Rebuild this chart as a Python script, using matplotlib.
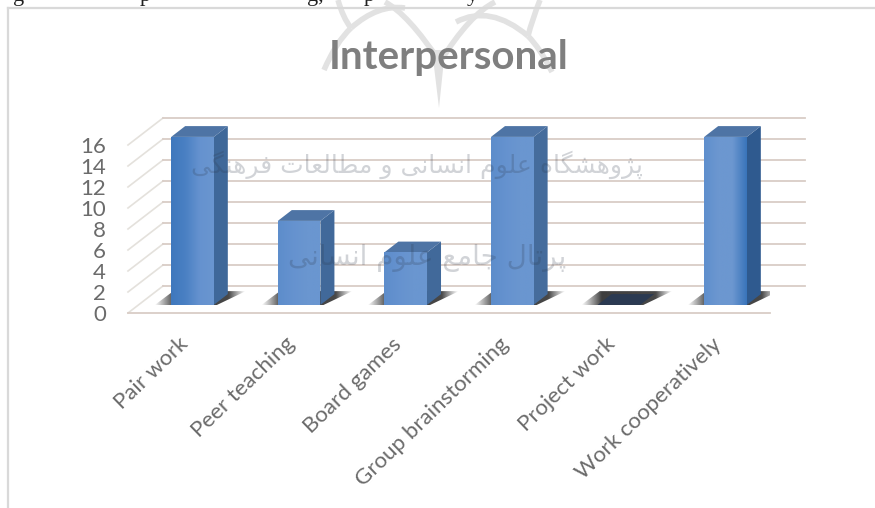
import numpy as np
import matplotlib
matplotlib.use("Agg")
import matplotlib.pyplot as plt
from matplotlib.patches import Polygon, PathPatch
from matplotlib.path import Path
from matplotlib.colors import LinearSegmentedColormap
from matplotlib.transforms import ScaledTranslation

categories = ["Pair work", "Peer teaching", "Board games",
              "Group brainstorming", "Project work", "Work cooperatively"]
values = [16, 8, 5, 16, 0, 16]
yticks = [0, 2, 4, 6, 8, 10, 12, 14, 16]
title = "Interpersonal"
watermark_1 = "پژوهشگاه علوم انسانی و مطالعات فرهنگی"
watermark_2 = "پرتال جامع علوم انسانی"

W, H = 875, 508
plt.rcParams["font.family"] = ["Lato", "DejaVu Sans"]
fig = plt.figure(figsize=(W / 100, H / 100), dpi=100, facecolor="white")

# background layer in pixel units: page frame, cut-off text line, logo
bg = fig.add_axes([0, 0, 1, 1], zorder=0)
bg.set_xlim(0, W)
bg.set_ylim(H, 0)
bg.axis("off")
for xa, ya, xb, yb, xc, yc in [
    (338, 0, 343, 18, 351, 28), (351, 28, 378, 4, 405, 8),
    (385, 2, 408, 14, 440, 62), (495, 2, 470, 14, 440, 62),
    (456, 22, 490, 4, 528, 36), (540, 0, 532, 20, 528, 36),
    (351, 28, 336, 42, 324, 70), (528, 36, 540, 48, 552, 72)]:
    bg.add_patch(PathPatch(Path([(xa, ya), (xb, yb), (xc, yc)], [1, 3, 3]),
                           fill=False, edgecolor="#e2e2e2", lw=4))
bg.add_patch(Polygon([(432, 50), (445, 50), (439, 108)], facecolor="#e2e2e2", edgecolor="none"))
bg.plot([8, 8], [8, H], color="#d9d9d9", lw=1.6)
bg.plot([8, W], [8, 8], color="#d9d9d9", lw=1.6)
for tx, s in [(13, "g"), (140, "p"), (307, "g,"), (364, "p"), (467, "y")]:
    bg.text(tx, 1, s, family="Liberation Serif", fontsize=16, color="#222222",
            ha="left", va="baseline", clip_on=True)

# main axes: front plane of the 3D box (value 0 on the front edge of the floor)
L, R, Y0 = 128, 770, 313
ppy = 10.5
YMAX = 20
YTOP = Y0 - YMAX * ppy
ax = fig.add_axes([L / W, 1 - Y0 / H, (R - L) / W, (Y0 - YTOP) / H], zorder=1)
ppx = 106.6
kx = 35 / ppx   # full depth in data units
ky = 27 / ppy
bw = 0.4
d1, d2 = 0.30, 0.70
x0 = (L - 192.5) / ppx + d1 * kx
xl, xr = x0, x0 + (R - L) / ppx
ax.patch.set_alpha(0)
for s in ax.spines.values():
    s.set_visible(False)


def P(x, y, d):
    return (x + d * kx, y + d * ky)


GRID = "#d9cdc6"
for v in yticks:
    ax.plot(*zip(P(xl, v, 0), P(xl, v, 1)), color="#e4e1dc", lw=1.2, clip_on=False, zorder=1)
    ax.plot(*zip(P(xl, v, 1), P(xr, v, 1)), color=GRID, lw=1.3, clip_on=False, zorder=1)
ax.plot(*zip(P(xl, 0, 0), P(xr, 0, 0)), color=GRID, lw=1.3, clip_on=False, zorder=1)

shadow_cm = LinearSegmentedColormap.from_list(
    "s", [(0, (0.25, 0.25, 0.25, 0)), (0.22, (0.2, 0.2, 0.2, 0.95)),
          (0.82, (0.2, 0.2, 0.2, 0.9)), (1, (0.3, 0.3, 0.3, 0))])
front_colors = [["#3f78bd", "#4a80c3", "#6592cf", "#6a96d0"],
                ["#5d8dcb", "#6592cf", "#6a96d0", "#6a96d0"],
                ["#5d8dcb", "#6592cf", "#6a96d0", "#6a96d0"],
                ["#5d8dcb", "#6592cf", "#6a96d0", "#6a96d0"],
                ["#5d8dcb", "#6592cf", "#6a96d0", "#6a96d0"],
                ["#5f8fcd", "#6c97d0", "#6c97d0", "#3a75bb"]]
side_colors = ["#3f6899", "#41699a", "#41699a", "#456c9c", "#3a6090", "#2f5a8f"]


def grad(poly, cm, z):
    xs, ys = zip(*poly)
    g = np.linspace(0, 1, 64)[None, :]
    im = ax.imshow(g, cmap=cm, extent=(min(xs), max(xs), min(ys), max(ys)),
                   aspect="auto", zorder=z, interpolation="bilinear")
    patch = Polygon(poly, transform=ax.transData, facecolor="none", edgecolor="none")
    ax.add_patch(patch)
    im.set_clip_path(patch)


for i, v in enumerate(values):
    a, b = i - bw / 2, i + bw / 2
    z = 3 + i * 0.01
    o = d1 * kx
    ys, yt = P(0, 0, d1 - 0.02)[1], P(0, 0, d2 + 0.11)[1]
    grad([(a + o - 0.16, ys), (b + o + 0.02, ys), (b + o + 0.30, yt), (a + o + 0.02, yt)],
         shadow_cm, z)
    if v > 0:
        ax.add_patch(Polygon([P(b, 0, d1), P(b, 0, d2), P(b, v, d2), P(b, v, d1)],
                             facecolor=side_colors[i], edgecolor="none", zorder=z + 0.1))
        ax.add_patch(Polygon([P(a, v, d1), P(b, v, d1), P(b, v, d2), P(a, v, d2)],
                             facecolor="#4e74a5", edgecolor="none", zorder=z + 0.1))
        grad([P(a, 0, d1), P(b, 0, d1), P(b, v, d1), P(a, v, d1)],
             LinearSegmentedColormap.from_list(f"f{i}", front_colors[i]), z + 0.2)
    else:
        ax.add_patch(Polygon([P(a, 0, d1), P(b, 0, d1), P(b, 0, d2), P(a, 0, d2)],
                             facecolor="#2b3a52", edgecolor="none", zorder=z + 0.1))

ax.set_xlim(xl, xr)
ax.set_ylim(0, YMAX)
ax.set_yticks(yticks)
ax.set_yticklabels([str(t) for t in yticks], fontsize=16, color="#6b6b6b")
ax.tick_params(axis="both", length=0)
ax.tick_params(axis="y", pad=16)
ax.set_xticks(range(len(categories)))
ax.set_xticklabels(categories, rotation=44, ha="right", rotation_mode="anchor",
                   fontsize=16, color="#6b6b6b")
ax.tick_params(axis="x", pad=15)
shift = ScaledTranslation(-2.5 / 72, 0, fig.dpi_scale_trans)
for lab in ax.get_xticklabels():
    lab.set_transform(lab.get_transform() + shift)

# overlay layer: scanned watermark text and the title
top = fig.add_axes([0, 0, 1, 1], zorder=2)
top.set_xlim(0, W)
top.set_ylim(H, 0)
top.axis("off")
top.patch.set_alpha(0)

FORMS = {"ا": (0xFE8D, 0xFE8E), "پ": (0xFB56, 0xFB57, 0xFB58, 0xFB59),
         "ت": (0xFE95, 0xFE96, 0xFE97, 0xFE98), "ج": (0xFE9D, 0xFE9E, 0xFE9F, 0xFEA0),
         "ر": (0xFEAD, 0xFEAE), "ژ": (0xFB8A, 0xFB8B), "و": (0xFEED, 0xFEEE),
         "س": (0xFEB1, 0xFEB2, 0xFEB3, 0xFEB4), "ش": (0xFEB5, 0xFEB6, 0xFEB7, 0xFEB8),
         "ط": (0xFEC1, 0xFEC2, 0xFEC3, 0xFEC4), "ع": (0xFEC9, 0xFECA, 0xFECB, 0xFECC),
         "ف": (0xFED1, 0xFED2, 0xFED3, 0xFED4), "ل": (0xFEDD, 0xFEDE, 0xFEDF, 0xFEE0),
         "م": (0xFEE1, 0xFEE2, 0xFEE3, 0xFEE4), "ن": (0xFEE5, 0xFEE6, 0xFEE7, 0xFEE8),
         "ه": (0xFEE9, 0xFEEA, 0xFEEB, 0xFEEC), "ی": (0xFBFC, 0xFBFD, 0xFBFE, 0xFBFF),
         "گ": (0xFB92, 0xFB93, 0xFB94, 0xFB95)}


def shape(text):
    out = []
    for n, c in enumerate(text):
        if c not in FORMS:
            out.append(c)
            continue
        prev = text[n - 1] if n else " "
        nxt = text[n + 1] if n + 1 < len(text) else " "
        from_prev = prev in FORMS and len(FORMS[prev]) == 4
        to_next = len(FORMS[c]) == 4 and nxt in FORMS
        idx = {(0, 0): 0, (1, 0): 1, (0, 1): 2, (1, 1): 3}[(int(from_prev), int(to_next))]
        out.append(chr(FORMS[c][idx]))
    return "".join(reversed(out))


for s, cx, cy, fs in [(watermark_1, 417, 165, 18), (watermark_2, 427, 258, 20)]:
    top.text(cx, cy, shape(s), family="DejaVu Sans", fontsize=fs, color="#2e3a4c",
             alpha=0.22, ha="center", va="center")

top.text(449, 57, title, ha="center", va="center", fontsize=29,
         fontweight="bold", color="#7f7f7f")

fig.savefig("out.png", dpi=100)
